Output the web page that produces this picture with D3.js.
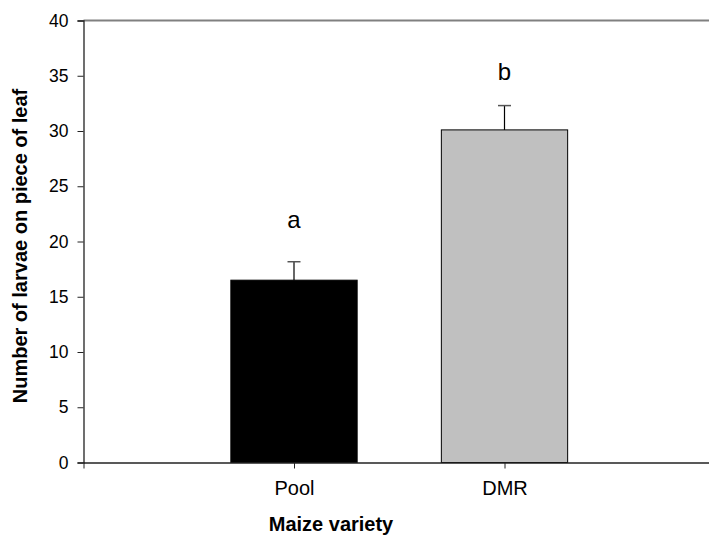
<!DOCTYPE html>
<html><head><meta charset="utf-8">
<script src="https://cdn.jsdelivr.net/npm/d3@7"></script>
<style>body{margin:0;background:#fff}svg{display:block}text{font-family:Arial,"Liberation Sans",sans-serif}</style>
</head><body>
<script>
const categories = ["Pool", "DMR"];
const means = [16.5, 30.1];
const errors = [1.67, 2.2];
const letters = ["a", "b"];
const letterPos = [21.2, 34.6];
const barColors = ["#000000", "#c0c0c0"];
const yTicks = [0, 5, 10, 15, 20, 25, 30, 35, 40];

const W = 709, H = 540;
const FONT = "Arial, 'Liberation Sans', sans-serif";
const svg = d3.select("body").append("svg").attr("width", W).attr("height", H);
const mLeft = 83.5, mTop = 20.5, mBottom = 462.5;
const x = d3.scaleLinear().domain([0, 3]).range([mLeft, mLeft + 3 * 210.5]);
const y = d3.scaleLinear().domain([0, 40]).range([mBottom, mTop]);
const bw = 0.6 * 210.5;

// top frame line
svg.append("line").attr("x1", mLeft).attr("x2", W).attr("y1", y(40)).attr("y2", y(40))
  .attr("stroke", "#808080").attr("stroke-width", 2);

// bars
svg.selectAll("rect.bar").data(categories).enter().append("rect")
  .attr("x", (d, i) => x(i + 1) - bw / 2).attr("width", bw)
  .attr("y", (d, i) => y(means[i])).attr("height", (d, i) => y(0) - y(means[i]))
  .attr("fill", (d, i) => barColors[i]).attr("stroke", "#000").attr("stroke-width", 1);

// error bars + letters
categories.forEach((c, i) => {
  svg.append("line").attr("x1", x(i + 1)).attr("x2", x(i + 1))
    .attr("y1", y(means[i])).attr("y2", y(means[i] + errors[i])).attr("stroke", "#000").attr("stroke-width", 1.2);
  svg.append("line").attr("x1", x(i + 1) - 6.5).attr("x2", x(i + 1) + 6.5)
    .attr("y1", y(means[i] + errors[i])).attr("y2", y(means[i] + errors[i])).attr("stroke", "#555").attr("stroke-width", 1.5);
  svg.append("text").attr("x", x(i + 1)).attr("y", y(letterPos[i]))
    .attr("text-anchor", "middle").attr("font-size", 24).attr("font-family", FONT).text(letters[i]);
});

// y axis
const yAxis = d3.axisLeft(y).tickValues(yTicks).tickSize(6).tickPadding(9);
const gy = svg.append("g").attr("transform", `translate(${mLeft},0)`).call(yAxis);
gy.attr("font-size", 17.5).attr("font-family", FONT);
gy.select(".domain").attr("stroke", "#222").attr("stroke-width", 1.3);
gy.selectAll(".tick line").attr("stroke", "#222");
gy.selectAll(".tick text").attr("fill", "#000");

// x axis
const xAxis = d3.axisBottom(x).tickValues([0, 1, 2]).tickFormat(d => d === 0 ? "" : categories[d - 1]).tickSize(6).tickPadding(12).tickSizeOuter(0);
const gx = svg.append("g").attr("transform", `translate(0,${mBottom})`).call(xAxis);
gx.attr("font-size", 20).attr("font-family", FONT);
gx.select(".domain").attr("stroke", "#222").attr("stroke-width", 1.5);
gx.selectAll(".tick line").attr("stroke", "#222");
gx.selectAll(".tick text").attr("fill", "#000");

// titles
svg.append("text").attr("x", 331).attr("y", 531).attr("text-anchor", "middle")
  .attr("font-size", 20).attr("font-weight", "bold").attr("font-family", FONT).text("Maize variety");
svg.append("text").attr("transform", `translate(27,246) rotate(-90)`).attr("text-anchor", "middle")
  .attr("font-size", 20).attr("font-weight", "bold").attr("font-family", FONT).text("Number of larvae on piece of leaf");
</script>
</body></html>
